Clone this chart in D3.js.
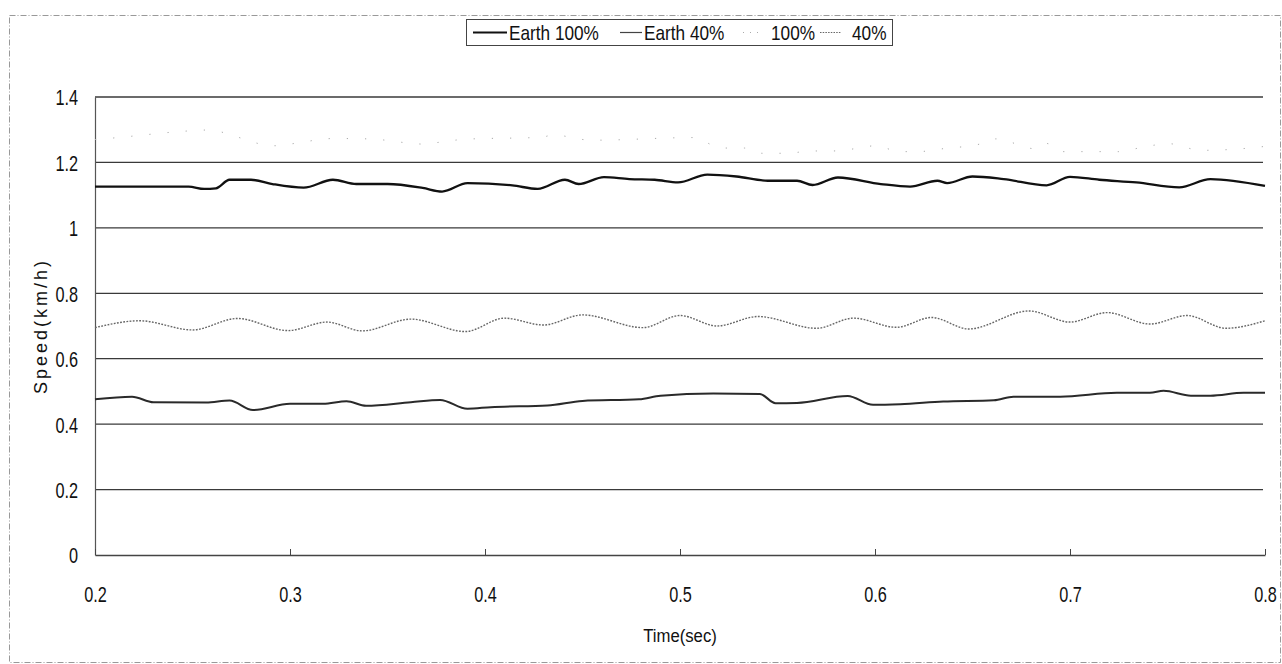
<!DOCTYPE html>
<html>
<head>
<meta charset="utf-8">
<script src="https://cdn.jsdelivr.net/npm/d3@7"></script>
<style>
  html, body { margin: 0; padding: 0; background: #fff; }
  svg { display: block; }
  text { font-family: "Liberation Sans", Arial, sans-serif; fill: #111; }
</style>
</head>
<body>
<svg id="chart" width="1282" height="664"></svg>
<script>
// Speed over time for four running conditions
const seriesNames = ["Earth 100%", "Earth 40%", "100%", "40%"];

const earth100Time = [0.200, 0.248, 0.256, 0.262, 0.269, 0.280, 0.291, 0.307, 0.322, 0.334, 0.350, 0.368, 0.378, 0.391, 0.414, 0.427, 0.441, 0.448, 0.461, 0.474, 0.487, 0.499, 0.514, 0.529, 0.545, 0.560, 0.568, 0.581, 0.603, 0.618, 0.632, 0.637, 0.650, 0.666, 0.688, 0.700, 0.715, 0.734, 0.756, 0.772, 0.800];
const earth100Speed = [1.126, 1.126, 1.119, 1.121, 1.147, 1.147, 1.134, 1.123, 1.147, 1.134, 1.134, 1.122, 1.111, 1.137, 1.130, 1.119, 1.147, 1.134, 1.155, 1.149, 1.147, 1.139, 1.163, 1.157, 1.144, 1.144, 1.131, 1.154, 1.134, 1.126, 1.144, 1.137, 1.157, 1.149, 1.130, 1.156, 1.147, 1.139, 1.124, 1.149, 1.128];

const earth40Time = [0.200, 0.219, 0.230, 0.257, 0.269, 0.281, 0.300, 0.317, 0.329, 0.339, 0.362, 0.377, 0.391, 0.403, 0.432, 0.450, 0.479, 0.490, 0.517, 0.541, 0.549, 0.560, 0.586, 0.599, 0.613, 0.635, 0.661, 0.671, 0.695, 0.724, 0.741, 0.748, 0.762, 0.772, 0.789, 0.800];
const earth40Speed = [0.476, 0.484, 0.467, 0.466, 0.472, 0.443, 0.462, 0.462, 0.470, 0.456, 0.467, 0.474, 0.447, 0.452, 0.457, 0.471, 0.476, 0.487, 0.494, 0.492, 0.464, 0.465, 0.486, 0.459, 0.461, 0.469, 0.473, 0.484, 0.484, 0.496, 0.496, 0.502, 0.487, 0.487, 0.496, 0.496];

const full100Time = [0.200, 0.208, 0.250, 0.257, 0.292, 0.301, 0.322, 0.332, 0.343, 0.369, 0.377, 0.390, 0.429, 0.435, 0.452, 0.456, 0.507, 0.517, 0.522, 0.533, 0.542, 0.556, 0.566, 0.578, 0.592, 0.600, 0.613, 0.622, 0.635, 0.655, 0.662, 0.682, 0.688, 0.696, 0.725, 0.739, 0.751, 0.767, 0.786, 0.800];
const full100Speed = [1.270, 1.274, 1.297, 1.299, 1.251, 1.257, 1.273, 1.273, 1.271, 1.256, 1.262, 1.271, 1.277, 1.284, 1.269, 1.268, 1.276, 1.252, 1.244, 1.244, 1.228, 1.228, 1.235, 1.235, 1.244, 1.251, 1.233, 1.233, 1.242, 1.258, 1.272, 1.242, 1.258, 1.233, 1.233, 1.249, 1.257, 1.237, 1.241, 1.249];

const part40Time = [0.200, 0.223, 0.250, 0.273, 0.299, 0.319, 0.337, 0.362, 0.390, 0.410, 0.430, 0.450, 0.481, 0.500, 0.519, 0.540, 0.570, 0.589, 0.611, 0.629, 0.648, 0.679, 0.700, 0.719, 0.741, 0.760, 0.780, 0.800];
const part40Speed = [0.695, 0.716, 0.688, 0.723, 0.686, 0.712, 0.685, 0.721, 0.683, 0.724, 0.703, 0.734, 0.695, 0.732, 0.700, 0.729, 0.693, 0.724, 0.696, 0.726, 0.691, 0.746, 0.712, 0.741, 0.706, 0.732, 0.693, 0.716];

const xTickValues = [0.2, 0.3, 0.4, 0.5, 0.6, 0.7, 0.8];
const xTickLabels = ["0.2", "0.3", "0.4", "0.5", "0.6", "0.7", "0.8"];
const yTickValues = [0, 0.2, 0.4, 0.6, 0.8, 1.0, 1.2, 1.4];
const yTickLabels = ["0", "0.2", "0.4", "0.6", "0.8", "1", "1.2", "1.4"];

const xTitle = "Time(sec)";
const yTitle = "Speed(km/h)";

const svg = d3.select("#chart");
const plot = { left: 95, right: 1265, top: 97, bottom: 555 };

const x = d3.scaleLinear().domain([0.2, 0.8]).range([plot.left, plot.right]);
const y = d3.scaleLinear().domain([0, 1.4]).range([plot.bottom, plot.top]);

// narrow, tall lettering: a horizontally squeezed sans
function narrowText(parent, tx, ty, str, size, squeeze, anchor, rotate) {
  const g = parent.append("g")
    .attr("transform", `translate(${tx},${ty})` + (rotate ? ` rotate(${rotate})` : ""));
  return g.append("text")
    .attr("transform", `scale(${squeeze},1)`)
    .attr("text-anchor", anchor || "start")
    .attr("font-size", size)
    .text(str);
}

// outer dashed frame
svg.append("rect")
  .attr("x", 9.5).attr("y", 15.5)
  .attr("width", 1271).attr("height", 647)
  .attr("fill", "none")
  .attr("stroke", "#999")
  .attr("stroke-width", 1)
  .attr("stroke-dasharray", "6 2 1 2");

// horizontal gridlines
svg.append("g")
  .selectAll("line")
  .data(yTickValues.filter(v => v > 0))
  .join("line")
  .attr("x1", plot.left).attr("x2", plot.right - 2)
  .attr("y1", d => y(d)).attr("y2", d => y(d))
  .attr("stroke", "#3a3a3a")
  .attr("stroke-width", 1.3);

const tickSize = 22, tickSqueeze = 0.74;

// y axis
const yAxis = d3.axisLeft(y)
  .tickValues(yTickValues)
  .tickFormat((d, i) => yTickLabels[i])
  .tickSize(0);
const gy = svg.append("g").attr("transform", `translate(${plot.left},0)`).call(yAxis);
gy.select(".domain").attr("stroke", "#555").attr("stroke-width", 1.2);
gy.selectAll("text")
  .attr("font-size", tickSize)
  .attr("font-family", "\"Liberation Sans\", Arial, sans-serif")
  .attr("fill", "#111")
  .attr("transform", `scale(${tickSqueeze},1)`)
  .attr("x", -17 / tickSqueeze)
  .attr("dy", "0.36em");

// x axis with inward ticks
const xAxis = d3.axisBottom(x)
  .tickValues(xTickValues)
  .tickFormat((d, i) => xTickLabels[i])
  .tickSizeInner(-6)
  .tickSizeOuter(0);
const gx = svg.append("g").attr("transform", `translate(0,${plot.bottom})`).call(xAxis);
gx.select(".domain").attr("stroke", "#444").attr("stroke-width", 1.3);
gx.selectAll(".tick line").attr("stroke", "#444");
gx.selectAll("text")
  .attr("font-size", tickSize)
  .attr("font-family", "\"Liberation Sans\", Arial, sans-serif")
  .attr("fill", "#111")
  .attr("transform", `scale(${tickSqueeze},1)`)
  .attr("y", 47)
  .attr("dy", 0);

// axis titles
narrowText(svg, (plot.left + plot.right) / 2, 642, xTitle, 19, 0.88, "middle");
narrowText(svg, 47, (plot.top + plot.bottom) / 2, yTitle, 18, 1, "middle", -90)
  .attr("letter-spacing", 3);

// series
const line = d3.line().x(d => x(d[0])).y(d => y(d[1])).curve(d3.curveMonotoneX);
const zip = (t, v) => t.map((ti, i) => [ti, v[i]]);

const seriesData = [
  { name: seriesNames[0], pts: zip(earth100Time, earth100Speed), stroke: "#111", width: 2.3, dash: null },
  { name: seriesNames[1], pts: zip(earth40Time, earth40Speed), stroke: "#2a2a2a", width: 2, dash: null },
  { name: seriesNames[2], pts: zip(full100Time, full100Speed), stroke: "#aaa", width: 1, dash: "1.2 17" },
  { name: seriesNames[3], pts: zip(part40Time, part40Speed), stroke: "#666", width: 1.4, dash: "1.8 1.4" }
];

svg.append("g")
  .selectAll("path")
  .data(seriesData)
  .join("path")
  .attr("d", d => line(d.pts))
  .attr("fill", "none")
  .attr("stroke", d => d.stroke)
  .attr("stroke-width", d => d.width)
  .attr("stroke-dasharray", d => d.dash)
  .attr("stroke-linejoin", "round");

// legend
const legend = svg.append("g");
legend.append("rect")
  .attr("x", 466.5).attr("y", 19.5)
  .attr("width", 426).attr("height", 26)
  .attr("fill", "#fff")
  .attr("stroke", "#444")
  .attr("stroke-width", 1);

const legendPos = [
  { lx1: 473, lx2: 507, tx: 509 },
  { lx1: 620, lx2: 642, tx: 644 },
  { lx1: 743, lx2: 762, tx: 771 },
  { lx1: 820, lx2: 841, tx: 852 }
];
const legendWidths = [2.2, 1.2, 1, 1.2];
const legendDash = [null, null, "1 6", "1.5 1.2"];
seriesData.forEach((s, i) => {
  const p = legendPos[i];
  legend.append("line")
    .attr("x1", p.lx1).attr("x2", p.lx2)
    .attr("y1", 32.5).attr("y2", 32.5)
    .attr("stroke", i === 1 ? "#444" : s.stroke)
    .attr("stroke-width", legendWidths[i])
    .attr("stroke-dasharray", legendDash[i]);
  narrowText(legend, p.tx, 40, s.name, 21, 0.82, "start");
});
</script>
</body>
</html>
